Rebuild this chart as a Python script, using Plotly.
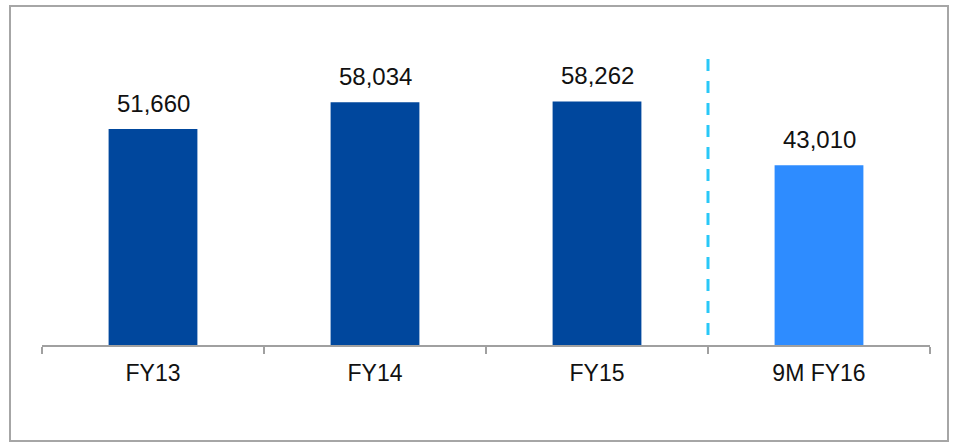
import plotly.graph_objects as go

categories = ["FY13", "FY14", "FY15", "9M FY16"]
values = [51660, 58034, 58262, 43010]
labels = ["51,660", "58,034", "58,262", "43,010"]
colors = ["#00479D", "#00479D", "#00479D", "#2E8CFF"]

W, H = 957, 443
L, R, T, B = 42, 27, 20, 98
pw, ph = W - L - R, H - T - B

def px_x(p):
    return (p - L) / pw

def px_y(p):
    return (H - B - p) / ph

fig = go.Figure(go.Bar(
    x=categories, y=values, marker=dict(color=colors, line=dict(width=0)),
    hoverinfo="skip",
))

annotations = [
    dict(x=c, y=v, text=t, showarrow=False, xref="x", yref="y",
         yanchor="bottom", yshift=10,
         font=dict(family="Liberation Sans, Arial", size=24, color="#111111"))
    for c, v, t in zip(categories, values, labels)
]

fig.update_layout(
    width=W, height=H, margin=dict(l=L, r=R, t=T, b=B),
    paper_bgcolor="white", plot_bgcolor="white",
    bargap=0.6, showlegend=False,
    font=dict(family="Liberation Sans, Arial", size=23, color="#111111"),
    xaxis=dict(showline=True, linecolor="#A0A0A0", linewidth=1.5,
               ticks="outside", tickson="boundaries", ticklen=7,
               tickcolor="#A0A0A0", tickwidth=1.5, showgrid=False,
               ticklabelstandoff=7,
               tickfont=dict(size=23, color="#111111")),
    yaxis=dict(visible=False, range=[0, 77730], showgrid=False),
    annotations=annotations,
    shapes=[
        dict(type="rect", xref="paper", yref="paper",
             x0=px_x(10), x1=px_x(948), y0=px_y(441), y1=px_y(6),
             line=dict(color="#A6A6A6", width=2), fillcolor="rgba(0,0,0,0)"),
        dict(type="line", xref="x", yref="paper", x0=2.5, x1=2.5,
             y0=px_y(335), y1=px_y(53),
             line=dict(color="#29C8F8", width=3, dash="12px,10px")),
    ],
)

fig.write_html("out.html", config={"displayModeBar": False},
               post_script="document.body.style.margin='0';document.body.style.overflow='hidden';")
